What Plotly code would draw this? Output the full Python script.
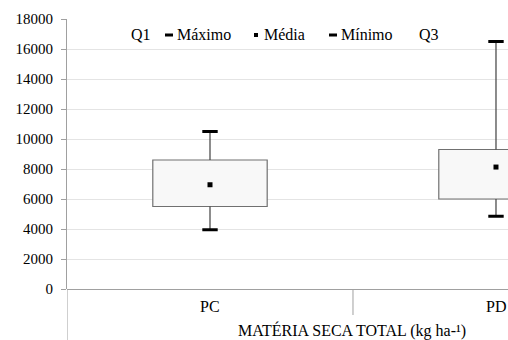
import plotly.graph_objects as go

categories = ["PC", "PD"]
q1 = [5500, 6000]
q3 = [8600, 9300]
maximo = [10500, 16500]
media = [6950, 8130]
minimo = [3950, 4850]
y_ticks = [0, 2000, 4000, 6000, 8000, 10000, 12000, 14000, 16000, 18000]
legend_names = ["Q1", "Máximo", "Média", "Mínimo", "Q3"]
x_title = "MATÉRIA SECA TOTAL (kg ha-¹)"

FONT = "Liberation Serif"
FS = 15
FS2 = 16
W, H = 508, 340
L, T = 67, 19
B = 340 - 289
PW, PH = W - L, H - T - B

def px(xp):  # window pixel -> paper x
    return (xp - L) / PW

def py(yp):  # window pixel -> paper y
    return (H - B - yp) / PH

box_h = [b - a for a, b in zip(q1, q3)]

fig = go.Figure()
fig.add_trace(go.Bar(x=categories, y=box_h, base=q1, name="Q3", width=0.4,
                     showlegend=False,
                     marker=dict(color="#f8f8f8", line=dict(color="#707070", width=1.2))))
fig.add_trace(go.Scatter(x=categories, y=maximo, name="Máximo", mode="markers", showlegend=False,
                         marker=dict(symbol="line-ew", size=11, color="black",
                                     line=dict(color="black", width=3)),
                         error_y=dict(type="data", symmetric=False,
                                      array=[0, 0],
                                      arrayminus=[m - b for m, b in zip(maximo, q3)],
                                      color="#404040", thickness=1.2, width=0)))
fig.add_trace(go.Scatter(x=categories, y=media, name="Média", mode="markers", showlegend=False,
                         marker=dict(symbol="square", size=5, color="black")))
fig.add_trace(go.Scatter(x=categories, y=minimo, name="Mínimo", mode="markers", showlegend=False,
                         marker=dict(symbol="line-ew", size=11, color="black",
                                     line=dict(color="black", width=3)),
                         error_y=dict(type="data", symmetric=False,
                                      array=[a - m for a, m in zip(q1, minimo)],
                                      arrayminus=[0, 0],
                                      color="#404040", thickness=1.2, width=0)))

fig.update_layout(
    width=W, height=H,
    margin=dict(l=L, r=0, t=T, b=B),
    paper_bgcolor="white", plot_bgcolor="white",
    barmode="overlay",
    showlegend=False,
    font=dict(family=FONT, size=FS, color="black"),
    xaxis=dict(range=[-0.5, 1.042], showgrid=False, showline=False,
               showticklabels=False, ticks="", zeroline=False, fixedrange=True),
    yaxis=dict(range=[0, 18000], tickvals=y_ticks, tickformat="d", showgrid=True,
               gridcolor="#e4e4e4", gridwidth=1, showline=True,
               linecolor="#a0a0a0", linewidth=1, ticks="outside", ticklen=5,
               tickcolor="#a0a0a0", zeroline=True, zerolinecolor="#a0a0a0",
               zerolinewidth=1, tickfont=dict(family=FONT, size=FS),
               ticklabelstandoff=5, fixedrange=True),
)

# Multi-level category axis lines
fig.add_shape(type="line", xref="x", yref="paper", x0=-0.5, x1=-0.5, y0=py(340), y1=0,
              line=dict(color="#a0a0a0", width=1))
fig.add_shape(type="line", xref="x", yref="paper", x0=0.5, x1=0.5, y0=py(315), y1=0,
              line=dict(color="#a0a0a0", width=1))

# Category labels
for c in categories:
    fig.add_annotation(text=c, xref="x", yref="paper", x=c, y=py(306),
                       xanchor="center", yanchor="middle", showarrow=False,
                       font=dict(family=FONT, size=FS2))

# Axis title
fig.add_annotation(text=x_title, xref="paper", yref="paper",
                   x=px(352), y=py(330), xanchor="center", yanchor="middle",
                   showarrow=False, font=dict(family=FONT, size=FS2))

# Legend (manual, Excel-style)
ly = py(35)
legend_text_x = [129, 175, 262, 339, 417]
for name, tx in zip(legend_names, legend_text_x):
    fig.add_annotation(text=name, xref="paper", yref="paper", x=px(tx), y=ly,
                       xanchor="left", yanchor="middle", showarrow=False,
                       font=dict(family=FONT, size=FS2))
for x0 in (165, 329):
    fig.add_shape(type="line", xref="paper", yref="paper", x0=px(x0), x1=px(x0 + 8),
                  y0=ly, y1=ly, line=dict(color="black", width=3))
fig.add_shape(type="rect", xref="paper", yref="paper", x0=px(254), x1=px(258),
              y0=py(37), y1=py(33), line=dict(width=0), fillcolor="black")

fig.write_html(
    "out.html",
    config={"displayModeBar": False},
    post_script=("document.body.style.margin='0';"
                 "document.body.style.overflow='hidden';"
                 "document.documentElement.style.overflow='hidden';"),
)
